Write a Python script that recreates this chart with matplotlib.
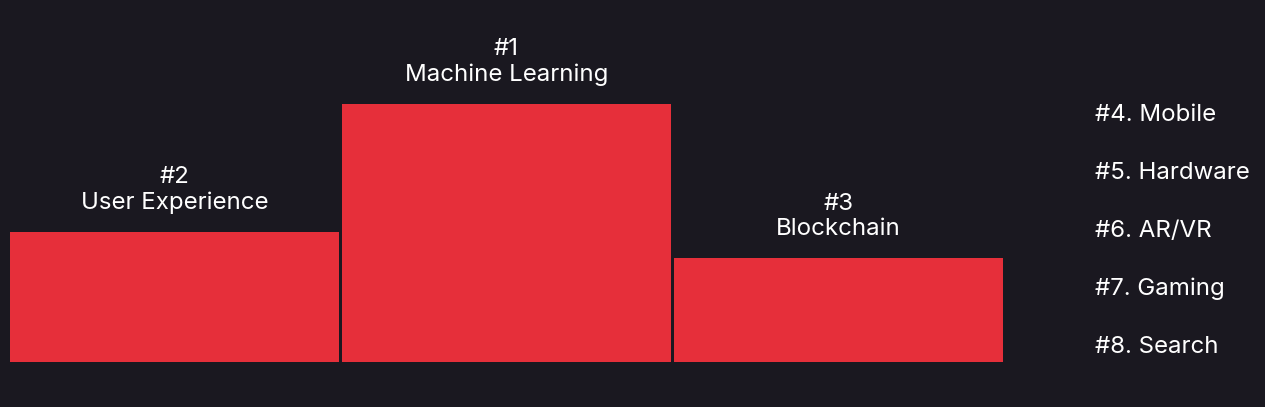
import matplotlib.pyplot as plt

# podium values (relative heights)
ranks = ['#2', '#1', '#3']
topics = ['User Experience', 'Machine Learning', 'Blockchain']
scores = [130, 258, 104]

others = ['#4. Mobile', '#5. Hardware', '#6. AR/VR', '#7. Gaming', '#8. Search']

bg = '#1a1820'
red = '#e62f3a'

plt.rcParams['font.family'] = ['Inter', 'DejaVu Sans']

fig = plt.figure(figsize=(12.65, 4.07), dpi=100, facecolor=bg)
W, H = 1265, 407
ax = fig.add_axes([8.5 / W, (H - 362) / H, 996 / W, 362 / H])
ax.set_facecolor(bg)

x = range(len(scores))
ax.bar(x, scores, width=329 / 332, color=red)
for i, s in enumerate(scores):
    ax.text(i, s + 18, f'{ranks[i]}\n{topics[i]}', ha='center', va='bottom',
            color='white', fontsize=17.3, linespacing=1.2)

ax.set_xlim(-0.5, 2.5)
ax.set_ylim(0, 362)
ax.axis('off')

for k, name in enumerate(others):
    y = 115 + 58 * k
    fig.text(1095 / W, 1 - y / H, name, color='white', fontsize=17.3,
             ha='left', va='center')

fig.savefig('out.png', dpi=100, facecolor=bg)
